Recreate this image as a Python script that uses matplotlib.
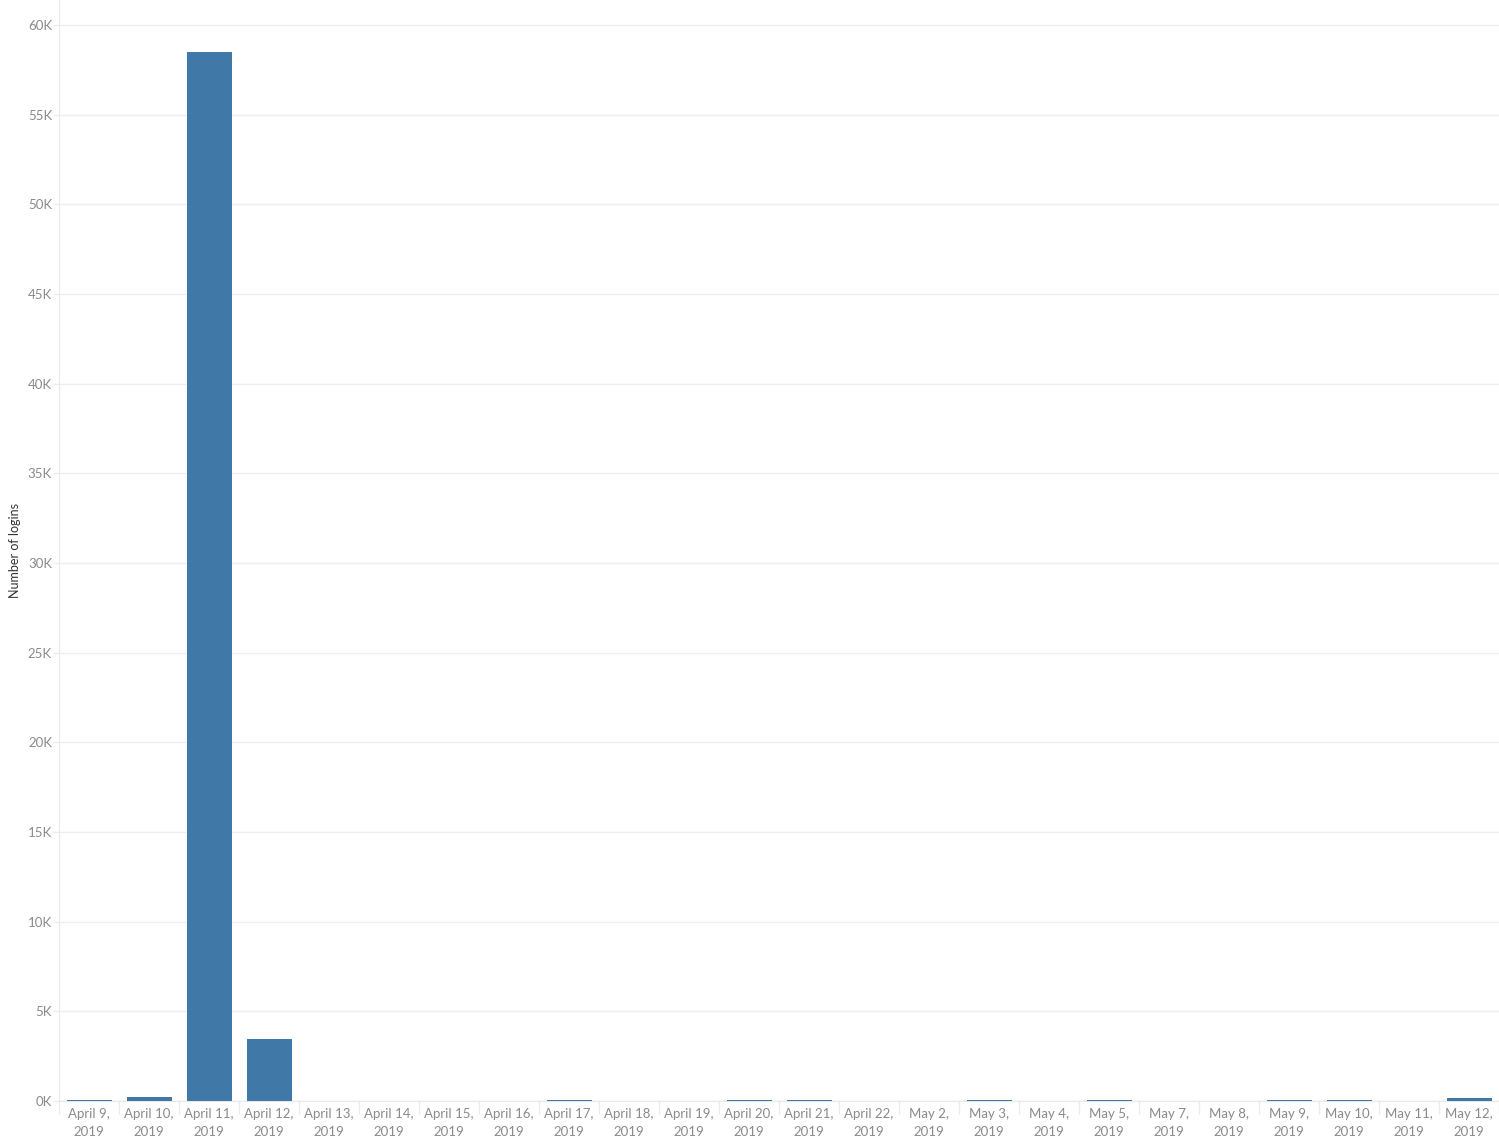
import matplotlib.pyplot as plt
import numpy as np
from matplotlib.ticker import FuncFormatter

# Logins per day
days = ["April 9,", "April 10,", "April 11,", "April 12,", "April 13,", "April 14,",
        "April 15,", "April 16,", "April 17,", "April 18,", "April 19,", "April 20,",
        "April 21,", "April 22,", "May 2,", "May 3,", "May 4,", "May 5,", "May 7,",
        "May 8,", "May 9,", "May 10,", "May 11,", "May 12,"]
year = "2019"
logins = [55, 220, 58500, 3450, 0, 0, 0, 0, 50, 0, 0, 50,
          50, 0, 0, 50, 0, 50, 0, 0, 50, 50, 0, 170]

plt.rcParams['font.family'] = ['Lato', 'DejaVu Sans']

fig = plt.figure(figsize=(14.99, 11.41), dpi=100)
ax = fig.add_axes([59 / 1499, 1 - 1101 / 1141, 1 - 59 / 1499, 1101 / 1141])

x = np.arange(len(days))
ax.bar(x, logins, width=0.75, color="#4079a8", zorder=3)

ax.set_xlim(-0.5, len(days) - 0.5)
ax.set_ylim(0, 60000 * 1101 / 1076)
ax.set_yticks(np.arange(0, 60001, 5000))
ax.yaxis.set_major_formatter(FuncFormatter(lambda v, p: f"{int(v / 1000)}K"))
ax.grid(axis="y", color="#efefef", linewidth=1, zorder=0)

ax.set_xticks(x)
ax.set_xticklabels([d + "\n" + year for d in days], color="#8a8a8a", fontsize=9.5,
                   linespacing=1.6)
ax.set_xticks(np.arange(-0.5, len(days)), minor=True)
ax.tick_params(axis="x", which="major", length=0, pad=5)
ax.tick_params(axis="x", which="minor", length=9, color="#ececec", width=1)
ax.tick_params(axis="y", length=4, color="#ececec", labelcolor="#8a8a8a",
               labelsize=9.5, pad=1)

for side in ["top", "right"]:
    ax.spines[side].set_visible(False)
ax.spines["left"].set_color("#e8e8e8")
ax.spines["bottom"].set_color("#e8e8e8")

ax.set_ylabel("Number of logins", color="#333333", fontsize=9)
ax.yaxis.set_label_coords(-0.0264, 0.5)

fig.savefig("out.png", dpi=100)
